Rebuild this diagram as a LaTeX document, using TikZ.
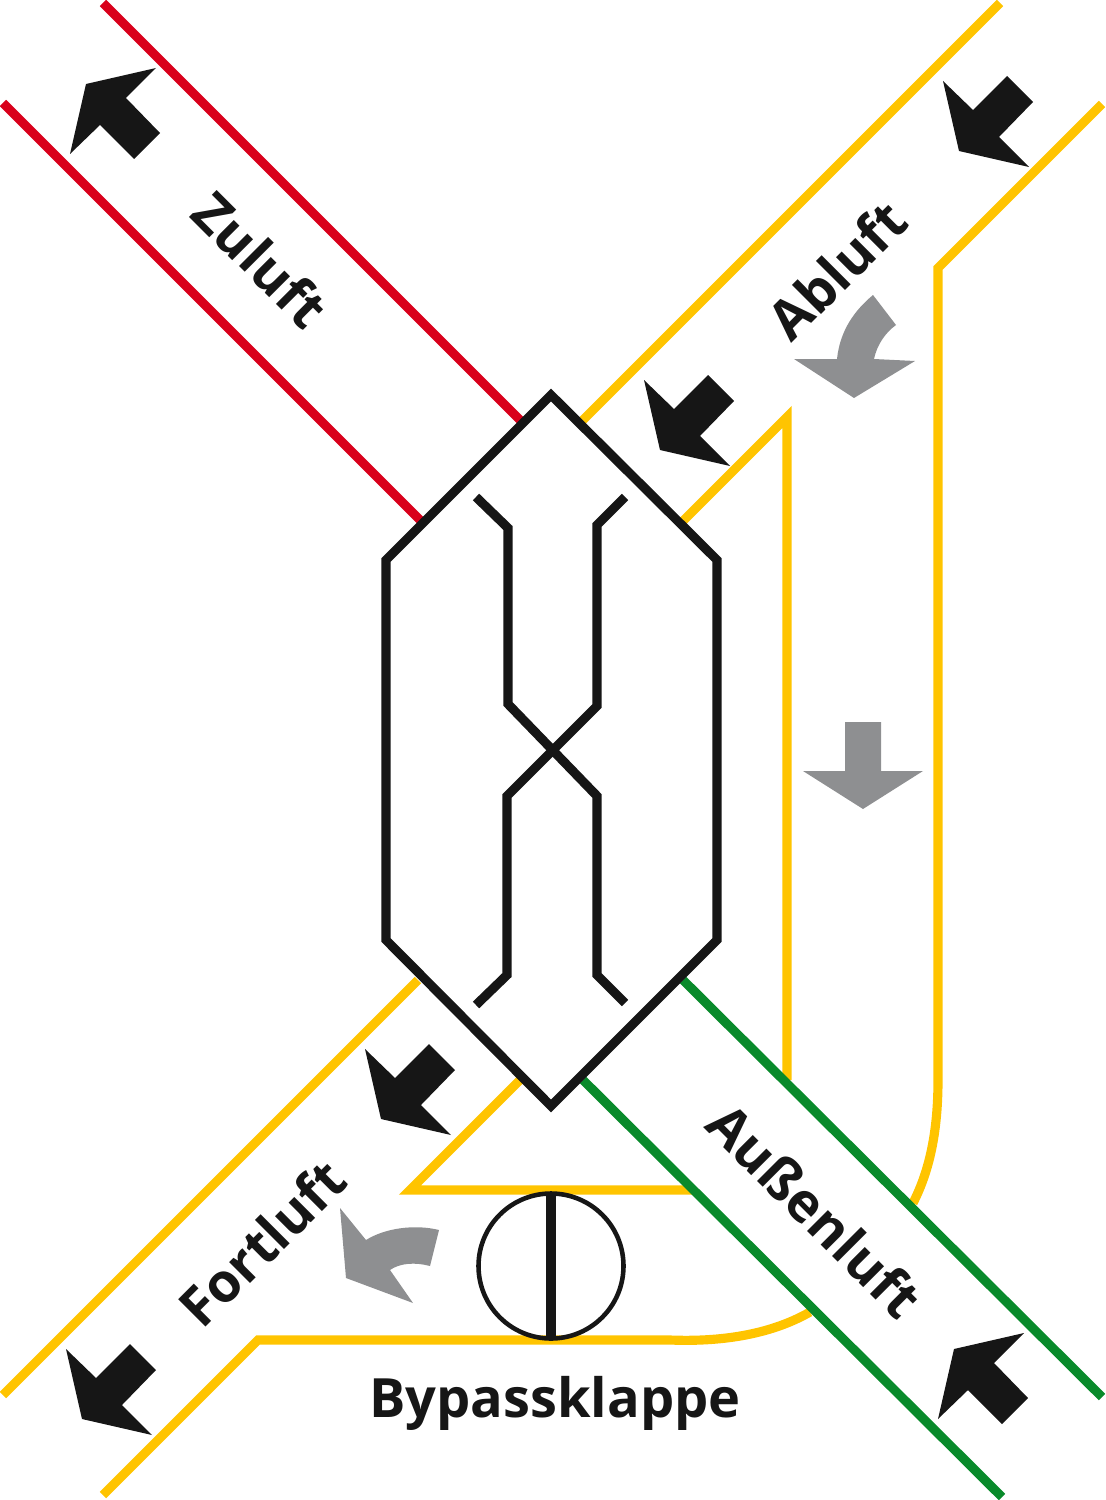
\documentclass[tikz,border=0pt]{standalone}
\usepackage{fontspec}
\setmainfont{Open Sans}
\definecolor{ductred}{HTML}{D9001B}
\definecolor{ductyellow}{HTML}{FFC400}
\definecolor{ductgreen}{HTML}{098A2B}
\definecolor{flowblack}{HTML}{161616}
\definecolor{flowgray}{HTML}{8E8F91}
\tikzset{
    duct/.style={line width=2.6pt, line join=miter, miter limit=10},
    unit/.style={line width=2.6pt, color=flowblack, line join=miter},
    airname/.style={font=\bfseries\fontsize{15.4}{18}\selectfont, text=flowblack, inner sep=0pt},
    airarrow/.pic={
        \fill[flowblack] (0, 0) -- (-16, -70) -- (14, -41) -- (48, -75) -- (74, -49) -- (40, -14) -- (70, 16) -- cycle;
    }
}
\begin{document}
\begin{tikzpicture}[x=0.01cm, y=-0.01cm]
    \useasboundingbox (0, 0) rectangle (1105, 1500);
    \draw[duct, color=ductred] (103, 3) -- (522, 422);
    \draw[duct, color=ductred] (3, 103) -- (422, 522);
    \draw[duct, color=ductyellow] (1000, 3) -- (582, 421);
    \draw[duct, color=ductyellow] (1102, 104) -- (938, 268) -- (938, 1080) .. controls (938, 1130) and (930, 1170) .. (913, 1203);
    \draw[duct, color=ductyellow] (682, 522) -- (787, 417) -- (787, 1080);
    \draw[duct, color=ductyellow] (418, 980) -- (3, 1395);
    \draw[duct, color=ductyellow] (103, 1495) -- (258, 1340) -- (670, 1340) .. controls (720, 1342) and (770, 1335) .. (810, 1312);
    \draw[duct, color=ductyellow] (520, 1080) -- (410, 1190) -- (692, 1190);
    \draw[duct, color=ductgreen] (683, 980) -- (1102, 1397);
    \draw[duct, color=ductgreen] (583, 1080) -- (1002, 1497);
    \draw[unit] (551, 395) -- (717, 560) -- (717, 940) -- (551, 1106) -- (386, 940) -- (386, 560) -- cycle;
    \draw[unit] (476, 497) -- (508, 528) -- (508, 704) -- (597, 796) -- (597, 975) -- (625, 1003);
    \draw[unit] (625, 497) -- (597, 525) -- (597, 706) -- (507, 796) -- (507, 975) -- (476, 1005);
    \draw[line width=1.3pt, color=flowblack] (551, 1266) circle (72.5);
    \draw[unit] (551, 1193) -- (551, 1339);
    \pic at (959, 151) {airarrow};
    \pic at (660, 450) {airarrow};
    \pic at (381, 1119) {airarrow};
    \pic at (82, 1419) {airarrow};
    \pic[yscale=-1] at (86, 84) {airarrow};
    \pic[yscale=-1] at (954, 1349) {airarrow};
    \fill[flowgray] (845, 722) -- (881, 722) -- (881, 771) -- (923, 771) -- (863, 809) -- (803, 771) -- (845, 771) -- cycle;
    \fill[flowgray] (873, 295) -- (896, 325) .. controls (885, 333) and (877, 345) .. (874, 359) -- (915, 361) -- (854, 398) -- (794, 359) -- (837, 359) .. controls (840, 330) and (855, 310) .. (873, 295) -- cycle;
    \fill[flowgray] (340, 1208) -- (366, 1240) .. controls (385, 1228) and (415, 1224) .. (439, 1230) -- (430, 1266) .. controls (415, 1262) and (400, 1263) .. (390, 1270) -- (413, 1303) -- (346, 1278) -- cycle;
    \node[airname, rotate=-45] (zuluft) at (261, 260) {Zuluft};
    \node[airname, rotate=45] (abluft) at (837, 270) {Abluft};
    \node[airname, rotate=45] (fortluft) at (262, 1243) {Fortluft};
    \node[airname, rotate=-45] (aussenluft) at (815, 1210) {Außenluft};
    \node[airname] (bypassklappe) at (555, 1403) {Bypassklappe};
\end{tikzpicture}
\end{document}
